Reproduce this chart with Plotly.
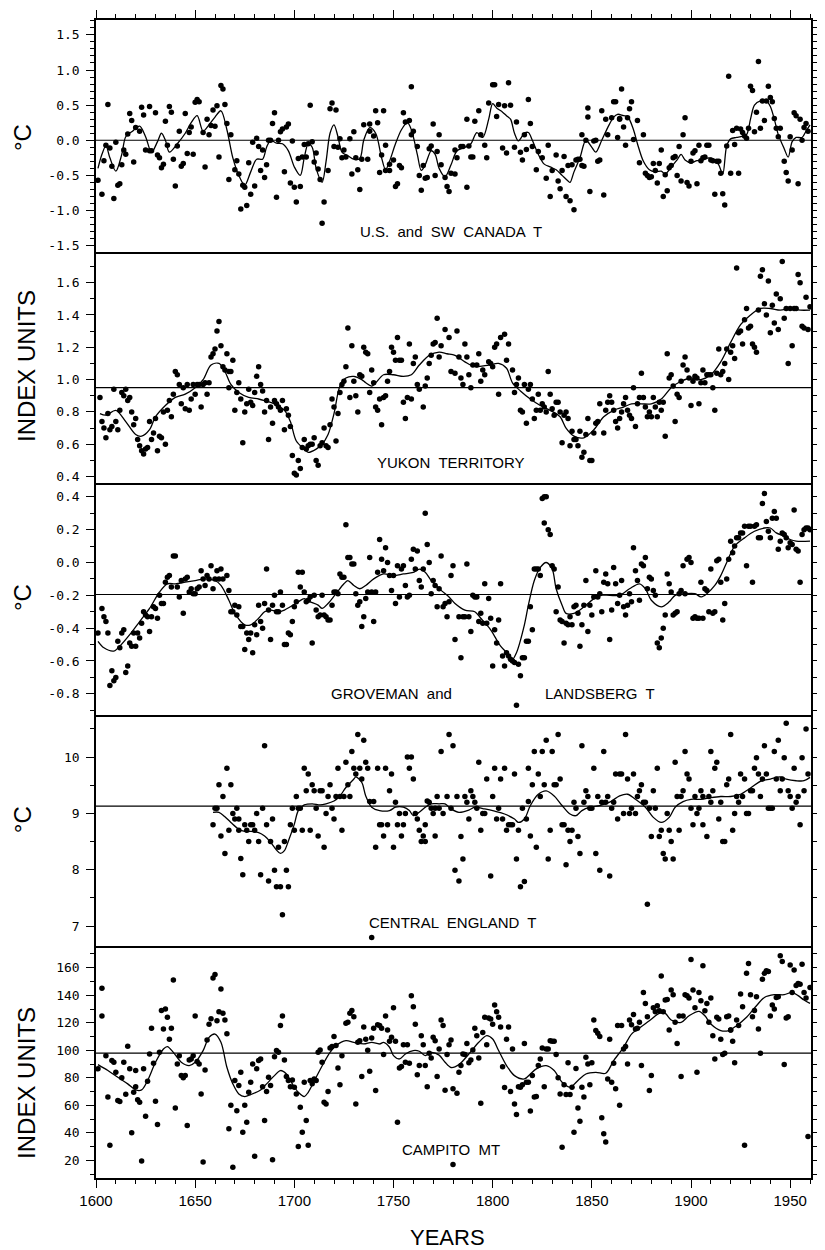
import plotly.graph_objects as go
from plotly.subplots import make_subplots

# ---------------- DATA ----------------
# Panel 1: U.S. and SW Canada temperature (deg C)
us_years = [1601,1603,1604,1605,1606,1607,1608,1609,1610,1611,1612,1613,1614,1615,1616,1617,1618,1619,1620,1622,
            1623,1624,1625,1627,1627,1628,1630,1631,1632,1633,1634,1635,1636,1637,1638,1639,1640,1641,1642,1643,
            1644,1645,1646,1647,1648,1649,1650,1651,1652,1654,1655,1656,1657,1658,1659,1660,1661,1662,1663,1664,
            1665,1666,1667,1668,1670,1671,1672,1673,1674,1675,1676,1677,1678,1679,1680,1681,1682,1683,1684,1685,
            1686,1687,1688,1689,1690,1691,1692,1693,1694,1695,1696,1697,1698,1699,1700,1701,1702,1703,1704,1705,
            1706,1707,1708,1709,1710,1711,1712,1713,1714,1715,1717,1718,1719,1720,1721,1722,1723,1724,1725,1726,
            1728,1729,1730,1731,1732,1733,1734,1735,1737,1738,1738,1740,1741,1742,1743,1744,1745,1746,1746,1748,
            1748,1750,1751,1752,1753,1754,1755,1756,1758,1759,1759,1760,1762,1763,1764,1765,1766,1767,1768,1769,
            1770,1771,1772,1773,1774,1776,1777,1778,1779,1781,1781,1782,1784,1785,1787,1787,1788,1789,1790,1791,
            1793,1794,1796,1797,1798,1800,1801,1802,1803,1805,1806,1807,1808,1809,1811,1812,1814,1815,1816,1817,
            1818,1819,1820,1822,1823,1825,1827,1828,1829,1830,1832,1833,1834,1835,1836,1837,1838,1839,1840,1841,
            1842,1843,1844,1845,1845,1846,1847,1848,1848,1849,1851,1852,1853,1854,1855,1856,1857,1858,1860,1861,
            1862,1863,1864,1864,1865,1866,1867,1868,1869,1870,1871,1873,1874,1876,1877,1878,1879,1880,1881,1882,
            1883,1884,1885,1886,1887,1888,1889,1890,1891,1892,1893,1894,1895,1896,1897,1898,1899,1900,1901,1902,
            1903,1904,1905,1906,1907,1908,1909,1910,1911,1912,1913,1914,1915,1916,1917,1918,1919,1920,1921,1922,
            1923,1924,1925,1926,1927,1928,1929,1930,1931,1932,1933,1934,1935,1936,1937,1938,1939,1940,1941,1942,
            1943,1944,1945,1947,1948,1949,1950,1951,1952,1953,1954,1955,1956,1957,1958,1959,1960]
us_vals = [-0.57,-0.77,-0.29,-0.07,0.51,-0.11,-0.37,-0.83,-0.03,-0.64,-0.62,-0.35,-0.14,-0.20,0.09,0.38,0.28,-0.31,0.18,0.13,
           0.47,0.36,-0.14,0.48,-0.15,-0.15,0.39,-0.21,-0.25,-0.39,-0.34,0.27,-0.07,0.48,0.40,-0.27,-0.65,-0.08,0.13,-0.37,
           -0.33,0.38,-0.19,0.11,0.19,-0.20,0.54,0.58,0.55,0.11,-0.38,0.30,0.08,0.21,0.43,0.20,0.49,-0.24,0.78,0.73,
           0.51,0.24,-0.56,0.08,-0.42,-0.29,-0.48,-0.98,-0.64,-0.67,-0.93,-0.32,-0.77,-0.03,-0.65,0.03,-0.09,-0.43,-0.14,-0.53,
           -0.35,0.00,0.00,0.24,0.39,-0.81,0.00,0.12,0.16,-0.45,0.19,0.23,-0.61,-0.01,-0.67,-0.88,-0.26,-0.66,-0.24,-0.06,
           -0.24,-0.05,0.50,-0.02,-0.31,-0.18,-0.41,-0.56,-1.18,-0.88,-0.43,0.45,0.53,-0.09,0.43,-0.10,0.02,-0.25,-0.14,-0.24,
           0.02,-0.48,0.12,-0.25,-0.42,-0.70,-0.27,0.22,-0.27,0.13,0.23,0.06,0.42,0.25,-0.46,-0.21,0.42,-0.07,-0.43,-0.34,
           -0.43,-0.28,-0.66,-0.62,-0.36,-0.39,0.39,0.26,0.28,0.08,0.76,0.13,-0.09,-0.50,-0.71,-0.36,-0.54,-0.53,-0.12,-0.08,
           0.23,-0.50,-0.16,0.08,-0.35,-0.53,-0.66,-0.73,-0.47,-0.14,-0.48,-0.25,-0.09,-0.09,0.30,-0.67,-0.08,-0.24,-0.24,0.27,
           0.42,0.08,-0.07,-0.25,0.53,0.79,0.79,0.34,0.51,-0.11,0.49,-0.18,0.82,0.50,-0.10,0.26,-0.17,-0.28,0.08,-0.13,
           0.58,0.24,-0.09,-0.42,-0.16,-0.25,-0.54,-0.07,-0.80,-0.43,-0.21,-0.58,-0.69,-0.43,-0.23,-0.80,-0.36,-0.86,-0.35,-0.99,
           -0.28,-0.27,-0.27,-0.36,0.08,-0.37,0.00,0.33,0.46,-0.73,-0.01,0.00,-0.30,-0.28,0.42,-0.78,0.30,0.08,0.32,0.55,
           0.55,0.04,0.30,0.31,0.73,0.19,-0.07,0.32,0.45,0.55,0.01,0.28,-0.32,0.08,-0.47,-0.50,-0.53,-0.52,-0.33,-0.43,
           -0.61,-0.33,-0.14,-0.80,-0.49,-0.72,-0.39,-0.36,-0.25,-0.23,-0.50,-0.09,-0.58,0.08,0.32,-0.60,-0.65,-0.30,-0.18,-0.15,
           -0.62,-0.07,-0.29,-0.25,-0.24,-0.07,-0.07,-0.28,-0.29,-0.77,-0.30,-0.30,-0.47,-0.76,-0.92,-0.08,0.91,-0.47,0.14,-0.06,
           0.17,-0.47,0.16,0.11,0.06,0.03,0.17,0.77,0.71,0.12,0.40,1.12,0.17,0.56,0.28,0.56,0.77,0.61,0.55,0.31,
           0.17,0.05,0.17,-0.30,-0.46,-0.58,0.05,-0.14,0.39,0.35,-0.62,0.30,0.00,0.18,0.24,0.13]
us_smooth_years = [1601,1603,1605,1607,1610,1613,1615,1618,1622,1625,1628,1631,1633,1635,1637,1641,1645,1648,1651,1654,
                   1657,1660,1663,1666,1669,1672,1675,1678,1681,1684,1686,1688,1691,1694,1697,1700,1703,1705,1707,1709,
                   1711,1714,1716,1718,1720,1722,1724,1727,1730,1733,1735,1738,1741,1744,1746,1748,1751,1754,1757,1759,
                   1762,1764,1766,1769,1771,1773,1776,1779,1782,1786,1789,1792,1795,1798,1800,1802,1805,1807,1809,1811,
                   1813,1816,1818,1820,1823,1826,1829,1832,1835,1838,1839,1841,1844,1847,1850,1852,1855,1858,1861,1863,
                   1866,1868,1871,1873,1876,1879,1882,1885,1887,1890,1893,1895,1897,1900,1903,1906,1909,1912,1914,1916,
                   1918,1920,1923,1926,1928,1930,1932,1935,1938,1940,1942,1944,1947,1949,1951,1953,1956,1958,1960]
us_smooth_vals = [-0.40,-0.20,-0.08,-0.25,-0.44,-0.20,0.05,0.12,0.20,0.05,-0.17,-0.02,0.10,0.00,-0.17,-0.05,0.10,0.25,0.35,0.13,
                  0.22,0.33,0.42,0.15,-0.25,-0.50,-0.64,-0.45,-0.27,-0.27,-0.10,0.00,-0.04,-0.05,-0.15,-0.38,-0.50,-0.25,-0.05,-0.10,
                  -0.40,-0.60,-0.30,0.10,0.22,0.05,-0.17,-0.22,-0.27,-0.26,0.00,0.18,0.10,-0.25,-0.42,-0.30,-0.05,0.15,0.25,0.15,
                  -0.20,-0.43,-0.35,-0.15,-0.20,-0.40,-0.52,-0.35,-0.15,-0.10,-0.05,0.11,0.04,0.30,0.52,0.46,0.40,0.35,0.30,0.10,
                  -0.01,0.10,0.11,0.00,-0.20,-0.34,-0.38,-0.42,-0.50,-0.58,-0.60,-0.45,-0.25,0.00,-0.10,-0.17,0.00,0.18,0.33,0.37,
                  0.35,0.34,0.15,-0.05,-0.30,-0.42,-0.45,-0.44,-0.48,-0.38,-0.28,-0.20,-0.28,-0.32,-0.29,-0.28,-0.25,-0.28,-0.35,-0.48,
                  -0.08,0.02,0.04,0.06,0.08,0.30,0.50,0.56,0.56,0.48,0.30,0.08,-0.12,-0.24,-0.02,0.04,0.04,0.13,0.22]

# Panel 2: Yukon Territory (index units)
yk_years = [1602,1603,1604,1605,1606,1607,1608,1609,1610,1611,1612,1613,1614,1615,1616,1617,1618,1619,1620,1621,
            1622,1623,1624,1625,1626,1627,1628,1629,1630,1631,1632,1633,1634,1635,1636,1637,1638,1639,1640,1641,
            1642,1643,1644,1645,1646,1647,1648,1649,1650,1651,1652,1653,1654,1655,1656,1657,1658,1659,1660,1661,
            1662,1663,1664,1665,1666,1667,1668,1667,1669,1670,1671,1672,1673,1674,1675,1676,1677,1678,1679,1680,
            1681,1682,1683,1684,1685,1686,1687,1688,1689,1690,1691,1692,1693,1694,1695,1696,1697,1698,1699,1700,
            1701,1702,1703,1704,1705,1706,1707,1708,1709,1710,1711,1712,1713,1714,1715,1716,1717,1718,1719,1720,
            1721,1722,1723,1724,1725,1726,1727,1728,1729,1730,1731,1732,1733,1734,1735,1736,1737,1738,1739,1740,
            1741,1742,1743,1744,1745,1746,1747,1748,1749,1750,1751,1752,1753,1754,1755,1756,1757,1758,1759,1760,
            1761,1762,1763,1765,1766,1767,1768,1769,1770,1771,1772,1773,1774,1776,1778,1779,1781,1782,1783,1784,
            1785,1786,1787,1788,1789,1790,1792,1793,1794,1795,1796,1798,1799,1800,1801,1802,1803,1804,1806,1807,
            1808,1810,1811,1812,1813,1814,1815,1816,1817,1818,1819,1820,1821,1822,1823,1824,1825,1826,1827,1828,
            1829,1830,1831,1832,1833,1834,1835,1836,1837,1838,1839,1840,1841,1842,1843,1844,1845,1846,1847,1848,
            1849,1850,1851,1852,1853,1854,1856,1857,1858,1859,1860,1861,1862,1863,1864,1865,1866,1867,1868,1869,
            1870,1871,1872,1873,1874,1875,1876,1877,1878,1879,1880,1881,1882,1883,1884,1885,1886,1887,1888,1889,
            1890,1891,1892,1893,1894,1895,1896,1897,1898,1899,1900,1901,1902,1903,1904,1905,1906,1907,1908,1909,
            1910,1911,1912,1913,1914,1915,1916,1917,1918,1919,1920,1921,1922,1923,1924,1925,1926,1927,1928,1929,
            1930,1931,1932,1933,1934,1935,1936,1937,1938,1939,1940,1941,1942,1943,1944,1945,1946,1947,1948,1949,
            1950,1951,1952,1953,1954,1955,1956,1957,1958,1959,1960]
yk_vals = [0.89,0.74,0.70,0.64,0.79,0.69,0.71,0.94,0.74,0.69,0.81,0.92,0.90,0.94,0.87,0.89,0.80,0.72,0.76,0.63,
           0.59,0.56,0.54,0.57,0.58,0.74,0.63,0.67,0.76,0.56,0.65,0.64,0.80,0.60,0.81,0.87,0.77,0.91,1.05,1.03,
           0.97,0.85,0.95,0.82,0.97,0.81,0.88,0.97,0.91,0.97,0.97,0.83,0.97,0.98,0.91,0.98,1.14,1.16,1.19,1.30,
           1.36,1.21,1.08,1.06,1.16,1.05,1.05,0.95,1.12,0.81,0.92,0.98,0.88,0.61,0.80,0.85,0.94,0.86,0.84,0.92,
           1.02,1.08,0.97,0.93,0.80,0.87,0.63,0.83,0.73,0.87,0.85,0.83,0.81,0.87,0.69,0.82,0.78,0.71,0.53,0.42,
           0.41,0.50,0.45,0.58,0.63,0.57,0.59,0.60,0.60,0.64,0.50,0.47,0.59,0.61,0.70,0.59,0.58,0.72,0.88,0.83,
           0.62,0.79,0.92,0.97,0.99,1.08,1.32,0.89,1.21,0.99,0.90,0.80,1.03,1.02,1.20,1.17,1.16,0.92,1.06,0.98,
           0.83,0.81,0.88,0.72,0.89,0.90,0.99,1.05,1.20,1.17,1.12,1.26,1.12,1.12,0.86,0.76,0.89,1.22,0.88,1.10,
           1.14,0.97,0.94,0.83,0.96,1.01,1.10,1.15,1.22,1.23,1.38,1.14,1.21,1.31,1.26,1.05,1.04,1.30,1.14,1.01,
           0.97,1.22,1.14,1.03,0.95,1.09,1.09,1.16,0.99,1.06,1.03,1.11,1.10,1.08,1.20,1.22,0.91,1.26,1.28,1.12,
           1.22,1.06,0.92,0.97,1.01,0.81,0.80,0.97,0.73,0.94,0.97,0.88,0.76,0.81,0.91,0.81,0.85,0.83,0.80,1.05,
           0.91,0.82,0.78,0.86,0.86,0.80,0.61,0.78,0.80,0.76,0.59,0.68,0.63,0.63,0.59,0.68,0.52,0.55,0.66,0.76,
           0.50,0.50,0.67,0.73,0.74,0.85,0.67,0.81,0.86,0.90,0.86,0.81,0.74,0.70,0.76,0.80,0.85,0.89,0.81,0.78,
           0.76,0.95,0.71,0.85,0.89,1.04,0.89,0.83,0.77,0.80,0.77,0.89,0.83,0.77,0.86,0.81,0.86,0.65,1.16,1.01,
           1.03,0.96,0.74,0.91,0.89,0.99,1.09,1.14,1.06,1.01,0.84,0.99,1.02,1.01,0.85,0.98,1.06,0.98,1.03,1.03,
           1.03,0.95,0.81,1.04,1.19,1.03,1.05,1.10,1.19,1.00,1.17,1.21,1.13,1.69,1.29,1.30,1.22,1.37,1.44,1.32,
           1.33,1.22,1.20,1.17,1.43,1.64,1.68,1.47,1.40,1.61,1.29,1.46,1.35,1.53,1.31,1.50,1.73,1.38,1.44,1.10,
           1.44,1.21,1.44,1.44,1.65,1.60,1.33,1.32,1.51,1.31,1.45]
yk_smooth_years = [1602,1605,1610,1615,1620,1623,1627,1630,1635,1640,1645,1650,1654,1658,1662,1665,1668,1672,1677,1682,
                   1685,1690,1695,1698,1701,1705,1707,1711,1714,1717,1720,1723,1726,1730,1734,1736,1739,1741,1745,1750,
                   1755,1759,1763,1768,1773,1777,1781,1786,1791,1798,1803,1807,1810,1814,1819,1824,1829,1834,1837,1841,
                   1846,1851,1856,1861,1866,1870,1875,1880,1885,1890,1895,1900,1905,1910,1915,1920,1925,1930,1935,1940,
                   1945,1950,1955,1960]
yk_smooth_vals = [0.79,0.78,0.81,0.74,0.66,0.65,0.69,0.77,0.84,0.89,0.91,0.95,1.00,1.09,1.10,1.05,0.97,0.92,0.89,0.88,
                  0.87,0.85,0.81,0.74,0.62,0.57,0.55,0.57,0.60,0.66,0.79,0.96,1.01,1.02,1.00,0.98,0.96,0.98,1.03,1.03,
                  1.02,1.03,1.09,1.15,1.17,1.16,1.15,1.11,1.08,1.09,1.10,1.07,0.98,0.93,0.88,0.84,0.81,0.77,0.70,0.65,
                  0.64,0.69,0.77,0.81,0.83,0.85,0.85,0.85,0.88,0.95,0.99,1.01,1.00,1.03,1.11,1.23,1.34,1.40,1.44,1.44,
                  1.43,1.44,1.43,1.43]

# Panel 3: Groveman and Landsberg temperature (deg C)
gl_years = [1601,1603,1604,1605,1606,1607,1608,1609,1610,1611,1612,1613,1614,1615,1616,1617,1618,1619,1620,1621,
            1622,1623,1624,1625,1626,1627,1628,1629,1630,1631,1632,1633,1634,1635,1636,1637,1638,1639,1640,1641,
            1642,1643,1644,1645,1646,1647,1648,1649,1650,1651,1652,1653,1654,1655,1656,1657,1658,1659,1660,1661,
            1662,1663,1664,1666,1667,1668,1669,1670,1671,1672,1673,1674,1675,1676,1677,1678,1679,1680,1681,1682,
            1683,1684,1685,1686,1687,1688,1689,1690,1691,1692,1693,1694,1695,1696,1697,1698,1699,1700,1701,1702,
            1703,1704,1705,1706,1707,1708,1709,1710,1711,1712,1713,1714,1715,1716,1717,1718,1719,1720,1721,1722,
            1723,1724,1725,1726,1727,1728,1729,1730,1731,1732,1733,1734,1735,1736,1737,1738,1739,1740,1741,1742,
            1743,1744,1745,1746,1747,1748,1749,1750,1751,1752,1753,1754,1755,1756,1757,1758,1759,1760,1761,1762,
            1763,1764,1765,1766,1767,1768,1769,1770,1771,1772,1773,1774,1775,1776,1777,1778,1779,1780,1781,1783,
            1784,1785,1786,1787,1788,1789,1790,1791,1792,1793,1794,1795,1796,1797,1798,1799,1800,1801,1802,1803,
            1804,1805,1806,1807,1808,1809,1810,1811,1812,1813,1814,1815,1816,1817,1818,1819,1820,1821,1822,1823,
            1824,1825,1826,1827,1826,1828,1829,1830,1831,1832,1833,1834,1835,1836,1837,1838,1839,1840,1841,1842,
            1843,1844,1845,1846,1847,1848,1849,1850,1851,1852,1853,1854,1855,1856,1857,1858,1859,1860,1861,1862,
            1863,1864,1865,1866,1867,1868,1869,1870,1871,1872,1873,1874,1875,1876,1877,1878,1879,1880,1881,1882,
            1883,1884,1885,1886,1887,1888,1889,1890,1891,1892,1893,1894,1895,1896,1897,1898,1899,1900,1901,1902,
            1903,1904,1905,1906,1907,1908,1909,1910,1911,1912,1913,1914,1915,1916,1917,1918,1919,1920,1921,1922,
            1923,1924,1925,1926,1927,1928,1929,1930,1931,1932,1933,1934,1935,1936,1937,1938,1939,1940,1941,1942,
            1943,1944,1945,1946,1947,1948,1949,1950,1951,1952,1953,1954,1955,1956,1957,1958,1959,1960]
gl_vals = [-0.43,-0.28,-0.33,-0.36,-0.43,-0.75,-0.66,-0.72,-0.70,-0.48,-0.52,-0.43,-0.41,-0.67,-0.63,-0.49,-0.51,-0.43,-0.51,-0.43,
           -0.46,-0.37,-0.30,-0.32,-0.33,-0.42,-0.33,-0.27,-0.28,-0.34,-0.20,-0.25,-0.25,-0.12,-0.09,-0.08,-0.15,0.04,0.04,-0.15,
           -0.21,-0.11,-0.31,-0.10,-0.09,-0.18,-0.16,-0.19,-0.19,-0.16,-0.15,-0.05,-0.10,-0.14,-0.08,-0.10,-0.02,-0.16,-0.10,-0.05,
           -0.10,-0.04,-0.10,-0.08,-0.17,-0.30,-0.30,-0.26,-0.32,-0.27,-0.39,-0.39,-0.53,-0.43,-0.47,-0.43,-0.55,-0.38,-0.44,-0.26,
           -0.36,-0.40,-0.25,-0.04,-0.29,-0.47,-0.26,-0.20,-0.30,-0.30,-0.18,-0.26,-0.50,-0.50,-0.43,-0.44,-0.36,-0.27,-0.24,-0.06,
           -0.15,-0.06,-0.18,-0.24,-0.23,-0.21,-0.49,-0.20,-0.29,-0.33,-0.32,-0.20,-0.32,-0.33,-0.35,-0.35,-0.26,-0.18,-0.18,-0.19,
           -0.07,-0.09,-0.09,0.23,0.03,0.03,-0.01,-0.01,-0.19,-0.26,-0.24,-0.39,-0.33,-0.22,-0.18,0.03,-0.18,-0.36,-0.18,-0.06,
           0.14,0.02,-0.05,0.09,0.00,-0.08,-0.17,-0.08,-0.25,-0.02,-0.21,-0.04,-0.02,-0.14,-0.21,-0.20,0.02,0.08,-0.04,0.07,
           -0.11,-0.15,-0.04,0.30,0.11,0.00,-0.19,-0.11,-0.14,-0.27,-0.16,0.04,-0.27,-0.25,-0.33,-0.24,-0.08,-0.02,-0.47,-0.33,
           -0.58,-0.33,-0.33,-0.01,-0.33,-0.42,-0.20,-0.21,-0.21,-0.36,-0.31,-0.37,-0.13,-0.37,-0.22,-0.34,-0.63,-0.41,-0.49,-0.35,
           -0.13,-0.57,-0.63,-0.55,-0.57,-0.59,-0.60,-0.61,-0.87,-0.62,-0.69,-0.58,-0.58,-0.48,-0.48,-0.27,-0.41,-0.04,-0.04,-0.04,
           -0.08,0.39,0.40,0.40,0.24,0.20,0.17,-0.02,-0.04,-0.30,-0.15,-0.35,-0.36,-0.49,-0.37,-0.38,-0.33,-0.38,-0.27,-0.26,
           -0.31,-0.51,-0.38,-0.26,-0.11,-0.42,-0.26,-0.32,-0.21,-0.05,-0.21,-0.19,-0.30,-0.12,-0.07,-0.13,-0.47,-0.29,-0.03,-0.13,
           -0.25,-0.20,-0.11,-0.27,-0.32,-0.26,-0.19,-0.24,0.09,-0.05,-0.11,-0.23,-0.01,-0.02,0.03,-0.16,-0.09,-0.10,-0.17,-0.20,
           -0.49,-0.52,-0.46,-0.40,-0.32,-0.07,-0.13,-0.18,-0.32,-0.31,-0.30,-0.19,-0.17,-0.02,-0.19,0.02,0.03,0.00,-0.34,-0.33,
           -0.34,-0.34,-0.12,-0.34,-0.16,-0.17,-0.30,-0.04,-0.31,-0.30,0.01,0.02,-0.12,-0.35,-0.25,-0.10,0.02,0.13,0.06,0.10,
           0.15,0.15,0.18,0.18,0.22,-0.02,0.22,0.22,-0.12,0.22,0.23,0.15,0.15,0.36,0.42,0.25,0.19,0.15,0.27,0.31,
           0.27,0.08,0.13,0.18,0.17,0.15,0.09,0.12,0.11,0.32,0.08,0.07,-0.12,0.17,0.20,0.21,0.21,0.20]
gl_smooth_years = [1601,1604,1609,1612,1617,1622,1627,1632,1636,1640,1645,1650,1655,1660,1663,1667,1670,1675,1678,1682,
                   1685,1688,1692,1695,1698,1702,1705,1708,1712,1714,1717,1721,1725,1727,1730,1733,1736,1740,1745,1750,
                   1755,1760,1763,1766,1769,1774,1778,1781,1786,1791,1794,1799,1804,1808,1810,1812,1816,1818,1821,1824,
                   1827,1830,1832,1835,1837,1841,1844,1847,1851,1854,1859,1864,1869,1874,1877,1880,1885,1889,1892,1897,
                   1902,1905,1908,1912,1915,1918,1922,1927,1932,1937,1940,1943,1947,1950,1953,1960]
gl_smooth_vals = [-0.48,-0.52,-0.54,-0.51,-0.44,-0.36,-0.28,-0.18,-0.13,-0.13,-0.12,-0.11,-0.10,-0.11,-0.14,-0.23,-0.31,-0.38,-0.38,-0.34,
                  -0.30,-0.29,-0.30,-0.29,-0.27,-0.24,-0.22,-0.24,-0.26,-0.28,-0.25,-0.19,-0.13,-0.11,-0.14,-0.16,-0.14,-0.10,-0.07,-0.08,
                  -0.07,-0.06,-0.04,-0.06,-0.11,-0.17,-0.21,-0.25,-0.29,-0.30,-0.34,-0.41,-0.51,-0.56,-0.59,-0.55,-0.38,-0.26,-0.11,-0.03,
                  0.00,-0.04,-0.16,-0.26,-0.31,-0.31,-0.29,-0.26,-0.22,-0.20,-0.20,-0.20,-0.16,-0.13,-0.16,-0.23,-0.27,-0.24,-0.20,-0.19,
                  -0.19,-0.21,-0.19,-0.14,-0.08,0.00,0.10,0.15,0.19,0.21,0.21,0.18,0.16,0.14,0.13,0.13]

# Panel 4: Central England temperature (deg C)
ce_years = [1659,1660,1661,1662,1663,1664,1665,1666,1667,1668,1669,1670,1671,1672,1672,1673,1674,1675,1676,1677,
            1678,1679,1680,1681,1682,1683,1684,1685,1686,1687,1688,1689,1690,1691,1692,1693,1694,1695,1696,1697,
            1698,1699,1700,1701,1702,1703,1704,1705,1706,1707,1708,1709,1710,1711,1712,1713,1714,1715,1716,1717,
            1718,1719,1720,1721,1722,1723,1724,1725,1726,1727,1728,1729,1730,1731,1732,1733,1734,1735,1736,1737,
            1738,1739,1740,1741,1742,1743,1744,1745,1746,1747,1748,1749,1750,1751,1752,1753,1754,1755,1756,1757,
            1758,1759,1760,1761,1762,1763,1764,1765,1766,1766,1767,1768,1769,1770,1771,1771,1772,1773,1774,1775,
            1777,1778,1779,1780,1781,1782,1783,1784,1785,1786,1787,1788,1789,1790,1791,1792,1793,1794,1795,1796,
            1797,1799,1800,1801,1802,1803,1804,1805,1806,1807,1808,1809,1810,1811,1812,1813,1814,1815,1816,1817,
            1818,1818,1819,1820,1821,1822,1823,1824,1825,1826,1827,1828,1829,1830,1831,1832,1833,1834,1835,1836,
            1837,1838,1839,1840,1841,1842,1843,1844,1845,1846,1847,1848,1849,1850,1851,1852,1853,1854,1855,1856,
            1857,1858,1859,1860,1861,1862,1863,1864,1865,1866,1867,1868,1869,1870,1871,1872,1873,1874,1875,1876,
            1877,1878,1879,1880,1881,1882,1883,1884,1885,1886,1887,1888,1889,1890,1891,1892,1893,1894,1895,1896,
            1897,1898,1899,1900,1901,1902,1903,1904,1905,1906,1906,1908,1909,1910,1910,1911,1912,1913,1914,1915,
            1916,1917,1918,1919,1920,1921,1922,1923,1924,1925,1926,1927,1928,1929,1930,1931,1932,1933,1934,1935,
            1936,1937,1938,1939,1940,1941,1942,1943,1944,1945,1946,1947,1948,1949,1950,1951,1952,1953,1954,1955,
            1956,1957,1958,1959]
ce_vals = [8.80,9.09,9.09,9.51,8.60,9.30,8.29,9.80,8.70,9.51,9.00,8.90,9.09,8.90,8.70,8.20,7.91,8.80,8.70,8.50,
           8.80,8.80,8.70,9.00,8.50,7.91,9.09,10.20,8.80,7.80,8.50,8.90,7.99,7.70,8.40,7.70,7.20,8.50,7.99,7.70,
           8.80,9.09,8.70,9.30,9.09,9.09,8.70,9.80,9.40,9.70,8.70,9.51,9.40,9.09,8.60,9.40,9.40,8.40,9.00,9.30,
           9.51,9.09,8.90,9.30,9.80,9.30,8.70,9.30,9.91,9.51,9.30,10.10,9.80,9.70,10.40,9.80,9.61,10.30,9.91,9.80,
           9.21,6.80,9.21,8.40,9.80,8.80,8.80,8.60,9.80,8.80,9.40,9.70,8.40,9.20,8.80,9.00,8.60,8.80,9.00,10.00,
           9.80,10.00,9.61,9.00,8.90,8.70,8.50,8.60,8.50,8.80,9.22,9.20,9.09,9.00,9.09,8.60,9.30,9.09,10.10,9.00,
           9.30,10.40,9.09,10.20,7.99,9.30,7.80,8.59,8.19,9.30,9.20,8.90,9.40,9.30,9.20,9.09,9.91,8.70,9.00,9.00,
           9.61,7.89,9.30,9.80,8.90,9.09,9.61,8.90,9.80,8.70,8.80,8.80,8.80,9.70,8.19,8.70,7.70,9.09,7.79,8.90,
           9.80,9.21,8.60,9.51,10.10,8.40,9.70,9.30,10.10,9.51,10.30,8.19,8.70,10.10,9.51,9.51,10.40,9.61,8.80,8.80,
           8.09,8.70,8.50,8.70,9.20,9.09,8.59,8.29,10.20,9.20,9.40,9.30,9.09,9.09,9.80,8.29,9.30,7.99,9.20,10.10,
           9.20,9.30,7.89,9.09,9.20,9.70,8.90,9.70,9.70,9.00,10.40,9.61,9.00,9.09,9.70,9.00,9.30,9.40,9.51,9.20,
           9.20,7.39,9.09,8.59,9.40,9.09,9.80,8.59,8.70,8.29,8.19,9.00,8.70,8.50,8.19,9.91,9.30,8.70,9.30,9.40,
           10.10,9.70,9.61,9.09,8.80,9.30,9.00,9.09,9.40,9.30,8.80,8.59,9.30,9.20,10.10,9.40,9.80,9.91,8.90,9.20,
           8.50,8.50,9.51,9.61,10.40,8.70,9.00,9.30,9.20,9.70,9.30,9.61,9.00,9.00,9.40,9.40,9.80,9.99,9.70,9.30,
           9.61,10.20,9.70,9.09,9.09,9.09,10.10,9.61,10.30,9.40,9.61,9.99,10.60,9.40,9.30,9.09,9.80,9.20,9.30,8.80,
           9.99,9.40,10.50,9.70]
ce_smooth_years = [1659,1662,1665,1668,1672,1675,1678,1682,1685,1688,1691,1693,1695,1697,1700,1702,1705,1709,1713,1716,
                   1720,1723,1726,1730,1731,1734,1736,1739,1743,1748,1751,1755,1758,1760,1763,1766,1769,1773,1776,1779,
                   1783,1788,1791,1796,1801,1806,1811,1813,1816,1819,1823,1827,1831,1835,1839,1842,1845,1849,1854,1859,
                   1864,1868,1872,1877,1881,1885,1889,1892,1896,1900,1905,1910,1915,1920,1925,1930,1935,1940,1945,1948,
                   1953,1957,1960]
ce_smooth_vals = [9.02,9.02,8.94,8.84,8.72,8.68,8.68,8.66,8.60,8.49,8.35,8.29,8.34,8.51,8.81,9.05,9.15,9.17,9.15,9.17,
                  9.22,9.31,9.46,9.61,9.65,9.55,9.31,9.11,9.05,9.05,9.11,9.11,9.05,8.96,9.02,9.11,9.17,9.17,9.17,9.08,
                  9.02,9.06,9.11,9.08,9.04,8.99,8.90,8.84,8.90,9.14,9.34,9.40,9.31,9.14,8.99,8.96,9.05,9.11,9.14,9.20,
                  9.31,9.34,9.25,9.11,8.93,8.84,8.93,9.11,9.21,9.25,9.25,9.28,9.30,9.30,9.34,9.45,9.57,9.61,9.65,9.61,
                  9.58,9.58,9.64]

# Panel 5: Campito Mt (index units)
cm_years = [1601,1603,1603,1605,1606,1607,1608,1609,1610,1611,1612,1613,1614,1615,1616,1617,1618,1619,1620,1620,
            1621,1622,1623,1624,1625,1626,1627,1628,1629,1630,1631,1632,1633,1634,1635,1636,1637,1638,1639,1640,
            1641,1642,1643,1644,1645,1646,1647,1648,1649,1650,1651,1652,1653,1654,1655,1656,1657,1658,1659,1660,
            1661,1662,1663,1664,1665,1666,1667,1668,1669,1670,1671,1672,1673,1674,1675,1676,1677,1678,1679,1680,
            1681,1682,1683,1684,1685,1686,1687,1688,1689,1690,1691,1692,1693,1694,1695,1696,1697,1698,1699,1700,
            1701,1702,1703,1704,1705,1706,1707,1708,1709,1710,1711,1712,1713,1714,1715,1716,1717,1718,1719,1720,
            1721,1722,1723,1724,1726,1727,1728,1729,1730,1731,1732,1733,1734,1735,1736,1737,1738,1739,1740,1741,
            1742,1743,1744,1745,1746,1747,1748,1749,1750,1751,1752,1753,1754,1755,1756,1757,1758,1759,1760,1761,
            1762,1763,1764,1765,1766,1767,1768,1769,1770,1771,1772,1773,1774,1775,1776,1777,1778,1779,1780,1780,
            1782,1783,1784,1785,1786,1787,1788,1789,1790,1791,1792,1793,1794,1795,1796,1797,1798,1799,1800,1801,
            1802,1803,1804,1805,1806,1807,1808,1809,1810,1811,1812,1813,1814,1815,1816,1817,1818,1819,1820,1821,
            1822,1823,1824,1825,1826,1827,1828,1829,1830,1831,1832,1833,1834,1835,1836,1837,1838,1839,1840,1841,
            1842,1843,1844,1845,1846,1847,1848,1849,1850,1851,1852,1853,1854,1855,1856,1857,1858,1859,1860,1861,
            1862,1863,1864,1865,1866,1867,1868,1869,1870,1871,1872,1873,1874,1875,1876,1877,1878,1879,1880,1881,
            1882,1883,1884,1885,1886,1887,1888,1889,1890,1891,1892,1893,1894,1895,1896,1897,1898,1899,1900,1901,
            1902,1903,1904,1905,1906,1907,1908,1909,1910,1911,1912,1913,1914,1915,1916,1917,1918,1919,1920,1920,
            1921,1922,1923,1924,1925,1926,1927,1928,1929,1930,1931,1932,1933,1934,1935,1936,1937,1938,1939,1940,
            1941,1942,1943,1944,1945,1946,1947,1948,1949,1950,1951,1952,1953,1954,1955,1956,1957,1958,1959,1960]
cm_vals = [86.5,145,125,96,66,31,92.5,91.3,84,63.5,62.8,80,91.3,68,103,86.5,40,69.5,73.6,85.3,
           64,62.3,19.5,86.5,52,77.5,97.3,116,90.6,63,46,98.5,129,115.5,130,124,108,116,151,58,
           90,96,81.6,80,81.6,45.4,93,93.7,96,125,91.8,90,68.3,18.8,85.7,107.5,119,123,152.5,155,
           121.5,128,144.5,127,122,112,43,60,15,78,56,74.4,84,40.5,60,47.8,69.5,76.8,90,23,
           86.5,92.5,93.7,73.6,49,70,80.4,74.4,20.5,95.4,99.8,98.5,118,125,93,81,78,73.6,78.5,73.2,
           68.3,30,58.7,40.5,76.8,49,31,78,75.6,79.2,78,98.5,100.2,91.3,62.3,61,70,101.7,102.7,110,
           103.4,87.2,75,96,119.6,120.3,127,129,124.4,61,105.8,107,81,117,108,100,84.8,109,116,70.7,
           118.6,118,116,97,125,114.7,106.5,109.5,131,106.5,47.8,87.2,88.2,104,91.3,104,90.6,139.6,131.7,119,
           82.3,88.9,110.6,104,88.9,73.6,97.8,94.4,109.4,107,81,101,122,118,71,96.9,104,107.5,17,72,
           68.8,84,88.9,97.3,96.9,105,91,93,100.2,116,110.6,94.4,61.6,113,124,104,123.5,122.7,119,133,
           128,124,117,88,73,108,117,70,101,61,53.3,73.6,73.2,75,105,76.8,76.8,55.8,81.6,66,
           66.4,88.9,93.7,101.7,73.6,101,101,107,106.5,106.5,96.9,80,68.3,29.6,75,67.8,91,67.8,73.2,40.5,
           86.7,58.1,48.5,73.2,66,94.9,90,75,91,122,114.3,112.3,110,51,39.3,33.3,79.2,108,76.8,90.6,
           72,118,60,118,101,102.7,90,122,118.6,126,115.5,116,120.3,88.9,142,134,124.4,70.7,81.6,131,
           128,132.4,128.8,154,128,136.5,137,114.7,143.8,140.4,120.3,105,125,81,125,140.4,139.6,138,166,143.8,
           131,84,142,136,161.4,128.8,134,120.3,138,110.6,93.7,124,122.7,108,96.9,97.8,124.4,125,114.7,114.7,
           106.5,91,122,118,140.9,131.7,31,155.9,163,140.4,124.4,129,139,115.5,97.8,151.7,155.9,157.8,157.3,125,
           133,130,138.4,139,168.7,164.6,89.6,123.5,124.4,162,142,158.3,147,148.6,148,162.6,142,138,37.4,145.7]
cm_smooth_years = [1601,1606,1611,1616,1620,1623,1626,1630,1634,1636,1639,1643,1647,1650,1654,1657,1660,1663,1666,1669,
                   1672,1675,1678,1683,1686,1690,1693,1696,1699,1702,1705,1707,1711,1715,1718,1721,1726,1730,1735,1739,
                   1743,1745,1748,1750,1753,1756,1760,1763,1766,1769,1773,1776,1779,1783,1788,1793,1797,1800,1803,1807,
                   1811,1816,1819,1822,1827,1831,1835,1839,1843,1847,1852,1857,1861,1866,1870,1874,1879,1884,1887,1890,
                   1895,1899,1904,1907,1910,1915,1919,1923,1928,1933,1937,1942,1947,1951,1954,1957,1960]
cm_smooth_vals = [89.6,85.3,80.4,75.6,71.2,71.2,78,91.3,101,102.7,98.5,91.3,88.9,91.3,99.8,109.4,111.8,105.8,87.7,75.6,
                  68.3,66.4,67.8,71.2,75.6,81.6,85.3,82.8,75.6,69.5,66.4,69.5,80.4,91.3,98.5,103.4,107,105.8,104.6,105.8,
                  104.6,105.8,102.2,96.1,93.7,97.3,99.8,99.3,96.1,98.5,96.5,91.3,87.5,89.6,97.3,105.8,110.6,108.2,99.8,88.9,
                  81.6,79.2,82.8,86.5,88.9,85.3,76.8,73.2,78,82.8,84,83.3,92.5,102.2,111.8,116.2,121.5,126.8,126.8,122,
                  120.3,125.1,128.3,125.1,119.1,114.3,114.3,117.9,124,132.4,138.4,140.4,140.4,142.1,139.7,136.5,134.1]

# Per-panel settings: reference line, tick values/labels, panel label
ref_levels = [0.0, 0.95, -0.195, 9.13, 98.0]
y_ranges = [[-1.585, 1.712], [0.359, 1.792], [-0.928, 0.483], [6.64, 10.75], [7.2, 175.5]]
y_tickvals = [[-1.5, -1.0, -0.5, 0.0, 0.5, 1.0, 1.5],
              [0.4, 0.6, 0.8, 1.0, 1.2, 1.4, 1.6],
              [-0.8, -0.6, -0.4, -0.2, 0.0, 0.2, 0.4],
              [7, 8, 9, 10],
              [20, 40, 60, 80, 100, 120, 140, 160]]
y_ticktext = [["-1.5", "-1.0", "-0.5", "0.0", "0.5", "1.0", "1.5"],
              ["0.4", "0.6", "0.8", "1.0", "1.2", "1.4", "1.6"],
              ["-0.8", "-0.6", "-0.4", "-0.2", "0.0", "0.2", "0.4"],
              ["7", "8", "9", "10"],
              ["20", "40", "60", "80", "100", "120", "140", "160"]]
y_minor_step = [0.1, 0.1, 0.1, 0.5, 10]
panel_labels = [[("U.S.  and  SW  CANADA  T", 1779, -1.295)],
                [("YUKON  TERRITORY", 1779, 0.484)],
                [("GROVEMAN  and", 1749, -0.798), ("LANDSBERG  T", 1854, -0.798)],
                [("CENTRAL  ENGLAND  T", 1780, 7.06)],
                [("CAMPITO  MT", 1779, 28.0)]]
axis_titles = [("\u00b0C", 21, 133), ("INDEX UNITS", 25, 363), ("\u00b0C", 21, 595),
               ("\u00b0C", 21, 818), ("INDEX UNITS", 25, 1083)]
year_ticks = [1600, 1650, 1700, 1750, 1800, 1850, 1900, 1950]

series = [(us_years, us_vals, us_smooth_years, us_smooth_vals),
          (yk_years, yk_vals, yk_smooth_years, yk_smooth_vals),
          (gl_years, gl_vals, gl_smooth_years, gl_smooth_vals),
          (ce_years, ce_vals, ce_smooth_years, ce_smooth_vals),
          (cm_years, cm_vals, cm_smooth_years, cm_smooth_vals)]

# ---------------- FIGURE ----------------
# the page body has an 8 px margin, so the figure is drawn 8 px smaller and offset by it
OFF = 8
W, H = 825 - OFF, 1250 - OFF
ML, MR, MT, MB = 95.5 - OFF, 4, 15 - OFF, 72
fig = make_subplots(rows=5, cols=1, vertical_spacing=0)

for i, (sx, sy, lx, ly) in enumerate(series, start=1):
    fig.add_trace(go.Scatter(x=sx, y=sy, mode="markers",
                             marker=dict(color="black", size=5.5, line=dict(width=0)),
                             showlegend=False, hoverinfo="skip"), row=i, col=1)
    fig.add_trace(go.Scatter(x=lx, y=ly, mode="lines",
                             line=dict(color="black", width=1.3, shape="spline", smoothing=0.9),
                             showlegend=False, hoverinfo="skip"), row=i, col=1)
    fig.add_hline(y=ref_levels[i - 1], row=i, col=1, line=dict(color="black", width=1.2))

minor_years = [y for y in range(1600, 1961, 10) if y % 50 != 0]
tick_font = dict(family="DejaVu Sans Mono, monospace", size=13, color="black")
xtick_font = dict(family="Liberation Sans Narrow, Arial Narrow, Liberation Sans, sans-serif", size=15, color="black")

for i in range(1, 6):
    xa = dict(range=[1600, 1960.5], showline=True, linecolor="black", linewidth=1.5,
              showgrid=False, zeroline=False, tickmode="array", tickvals=year_ticks,
              ticktext=[str(v) for v in year_ticks], tickfont=xtick_font)
    if i == 1:
        xa.update(side="top", mirror=True, ticks="outside", ticklen=8, tickwidth=1.2, tickcolor="black",
                  showticklabels=False,
                  minor=dict(tickmode="array", tickvals=minor_years, ticks="outside", ticklen=4,
                             tickwidth=1, tickcolor="black"))
    elif i == 5:
        xa.update(side="bottom", mirror=False, ticks="outside", ticklen=8, tickwidth=1.2, tickcolor="black",
                  showticklabels=True,
                  minor=dict(tickmode="array", tickvals=minor_years, ticks="outside", ticklen=4,
                             tickwidth=1, tickcolor="black"))
    else:
        xa.update(side="bottom", mirror=False, ticks="", showticklabels=False)
    fig.update_xaxes(row=i, col=1, **xa)

    lo, hi = y_ranges[i - 1]
    step = y_minor_step[i - 1]
    k0 = int(lo / step) - 1
    k1 = int(hi / step) + 1
    minor_y = [round(k * step, 4) for k in range(k0, k1 + 1)
               if lo <= k * step <= hi and round(k * step, 4) not in y_tickvals[i - 1]]
    fig.update_yaxes(row=i, col=1, range=[lo, hi], showline=True, linecolor="black", linewidth=1.5,
                     mirror="ticks", showgrid=False, zeroline=False, ticks="outside", ticklen=8,
                     tickwidth=1.2, tickcolor="black", tickmode="array", tickvals=y_tickvals[i - 1],
                     ticktext=y_ticktext[i - 1], tickfont=tick_font, ticklabelstandoff=4,
                     minor=dict(tickmode="array", tickvals=minor_y, ticks="outside", ticklen=4,
                                tickwidth=1, tickcolor="black"))

# panel labels
for i, labels in enumerate(panel_labels, start=1):
    xref = "x" if i == 1 else f"x{i}"
    yref = "y" if i == 1 else f"y{i}"
    for text, xv, yv in labels:
        fig.add_annotation(x=xv, y=yv, xref=xref, yref=yref, text=text, showarrow=False,
                           font=dict(family="Liberation Sans, Arial, sans-serif", size=15, color="black"),
                           xanchor="center", yanchor="middle")

# axis titles (rotated); positions given in page pixels
plot_w = W - ML - MR
plot_h = H - MT - MB
def to_paper(px, py):
    return (px - OFF - ML) / plot_w, (H - MB - (py - OFF)) / plot_h

for text, px, py in axis_titles:
    xp, yp = to_paper(px, py)
    fig.add_annotation(x=xp, y=yp, xref="paper", yref="paper",
                       text=text, showarrow=False, textangle=-90,
                       font=dict(family="Liberation Sans, Arial, sans-serif", size=24, color="black"),
                       xanchor="center", yanchor="middle")

xp, yp = to_paper(452, 1238)
fig.add_annotation(x=xp, y=yp, xref="paper", yref="paper",
                   text="YEARS", showarrow=False,
                   font=dict(family="Liberation Sans, Arial, sans-serif", size=22, color="black"),
                   xanchor="center", yanchor="middle")

fig.update_layout(width=W, height=H, margin=dict(l=ML, r=MR, t=MT, b=MB, pad=0),
                  paper_bgcolor="white", plot_bgcolor="white", showlegend=False)

fig.write_html("out.html")
